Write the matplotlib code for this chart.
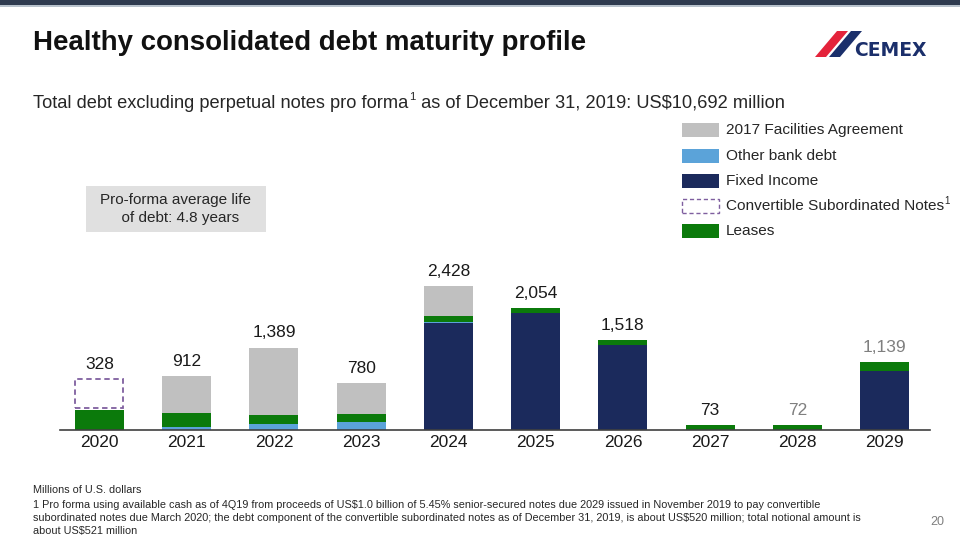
import matplotlib
matplotlib.use("Agg")
import matplotlib.pyplot as plt
from matplotlib.patches import Rectangle, Polygon
import numpy as np

plt.rcParams['font.family'] = ['Liberation Sans', 'DejaVu Sans']

years = ["2020", "2021", "2022", "2023", "2024", "2025", "2026", "2027", "2028", "2029"]
fixed_income = [0, 0, 0, 0, 1800, 1969, 1438, 0, 0, 997]
other_bank = [0, 45, 88, 132, 27, 0, 0, 0, 0, 0]
leases = [328, 240, 158, 130, 95, 85, 80, 73, 72, 142]
facilities_2017 = [0, 627, 1143, 518, 506, 0, 0, 0, 0, 0]
convertible = [520, 0, 0, 0, 0, 0, 0, 0, 0, 0]
label_grey = [False, False, False, False, False, False, False, False, True, True]

W, H = 960, 540
fig = plt.figure(figsize=(9.6, 5.4), dpi=100)
fig.patch.set_facecolor("white")

def fx(px):
    return px / W

def fy(py):
    return 1 - py / H

# top band
fig.add_artist(Rectangle((0, fy(5)), 1, 5 / H, transform=fig.transFigure,
                         facecolor="#2f3b4f", edgecolor="none"))
fig.add_artist(Rectangle((0, fy(6.5)), 1, 1.5 / H, transform=fig.transFigure,
                         facecolor="#b8c2cc", edgecolor="none"))

# axes
ax_left, ax_right = 60, 930
ax_bottom, ax_top = 429.5, 250
ax = fig.add_axes([fx(ax_left), fy(ax_bottom), (ax_right - ax_left) / W, (ax_bottom - ax_top) / H])
ax.set_xlim(-0.452, 9.52)
ax.set_ylim(0, (ax_bottom - ax_top) / 0.059)

x = np.arange(len(years))
bw = 0.56
C_NAVY = "#1b2a5c"
C_BLUE = "#5ba3d9"
C_GREEN = "#0b7a0b"
C_GREY = "#c0c0c0"
C_PURPLE = "#7f5f9f"

bottom = np.zeros(len(years))
ax.bar(x, fixed_income, bw, bottom=bottom, color=C_NAVY, edgecolor="none", zorder=2)
bottom += np.array(fixed_income)
ax.bar(x, other_bank, bw, bottom=bottom, color=C_BLUE, edgecolor="none", zorder=2)
bottom += np.array(other_bank)
ax.bar(x, leases, bw, bottom=bottom, color=C_GREEN, edgecolor="none", zorder=2)
bottom += np.array(leases)
ax.bar(x, facilities_2017, bw, bottom=bottom, color=C_GREY, edgecolor="none", zorder=2)
bottom += np.array(facilities_2017)
totals = bottom.copy()
conv = np.array(convertible)
mask = conv > 0
ax.bar(x[mask], conv[mask] - 30, bw * 0.98, bottom=bottom[mask] + 30, facecolor="none",
       edgecolor=C_PURPLE, linestyle=(0, (3, 2)), linewidth=1.3, zorder=3)
tops = bottom + conv

for xi, t, top, g in zip(x, totals, tops, label_grey):
    ax.text(xi, top + 120, f"{int(round(t)):,}", ha="center", va="bottom",
            fontsize=12.5, color="#7f7f7f" if g else "#1a1a1a")

for s in ["top", "right", "left"]:
    ax.spines[s].set_visible(False)
ax.spines["bottom"].set_color("#404040")
ax.spines["bottom"].set_linewidth(1.2)
ax.set_yticks([])
ax.set_xticks(x)
ax.set_xticklabels(years, fontsize=12.5, color="#1a1a1a")
ax.tick_params(axis="x", length=0, pad=4)
ax.patch.set_alpha(0)

# title & subtitle
fig.text(fx(33), fy(43), "Healthy consolidated debt maturity profile", fontsize=19.9,
         fontweight="bold", color="#111111", va="center", ha="left")
t1 = fig.text(fx(33), fy(103), "Total debt excluding perpetual notes pro forma", fontsize=13.15,
              color="#262626", va="center", ha="left")
fig.canvas.draw()
bb = t1.get_window_extent()
t2 = fig.text(bb.x1 / W + 0.5 / W, fy(97), "1", fontsize=8, color="#262626", va="center", ha="left")
bb2 = t2.get_window_extent()
fig.text(bb2.x1 / W + 1 / W, fy(103), " as of December 31, 2019: US$10,692 million", fontsize=13.15,
         color="#262626", va="center", ha="left")

# legend
leg_items = [("2017 Facilities Agreement", C_GREY, None),
             ("Other bank debt", C_BLUE, None),
             ("Fixed Income", C_NAVY, None),
             ("Convertible Subordinated Notes", None, C_PURPLE),
             ("Leases", C_GREEN, None)]
leg_y = [130, 156, 181, 206, 231]
for (lab, fc, ec), yy in zip(leg_items, leg_y):
    if fc is not None:
        fig.add_artist(Rectangle((fx(682), fy(yy + 7)), 37 / W, 14 / H, transform=fig.transFigure,
                                 facecolor=fc, edgecolor="none"))
    else:
        fig.add_artist(Rectangle((fx(682), fy(yy + 7)), 37 / W, 14 / H, transform=fig.transFigure,
                                 facecolor="none", edgecolor=ec, linestyle=(0, (3, 2)), linewidth=1.0))
    tt = fig.text(fx(726), fy(yy), lab, fontsize=11.1, color="#262626", va="center", ha="left")
    if lab.startswith("Convertible"):
        fig.canvas.draw()
        b = tt.get_window_extent()
        fig.text(b.x1 / W + 0.5 / W, fy(yy - 5), "1", fontsize=7, color="#262626", va="center", ha="left")

# grey info box
fig.add_artist(Rectangle((fx(86), fy(232)), 180 / W, 46 / H, transform=fig.transFigure,
                         facecolor="#e0e0e0", edgecolor="none"))
fig.text(fx(176), fy(209), "Pro-forma average life\n  of debt: 4.8 years", fontsize=11, color="#262626",
         va="center", ha="center", multialignment="center", linespacing=1.3)

# logo
red = [(815, 57), (826, 57), (848, 31), (837, 31)]
navy = [(829, 57), (840, 57), (862, 31), (851, 31)]
fig.add_artist(Polygon([(fx(a), fy(b)) for a, b in red], closed=True, transform=fig.transFigure,
                       facecolor="#e4233b", edgecolor="none"))
fig.add_artist(Polygon([(fx(a), fy(b)) for a, b in navy], closed=True, transform=fig.transFigure,
                       facecolor="#1b2f6b", edgecolor="none"))
fig.text(fx(854), fy(50), "CEMEX", fontsize=13.5, fontweight="bold", color="#1b2f6b",
         va="center", ha="left", fontstyle="normal", family=["DejaVu Sans"])

# footnotes
fn_family = ["Liberation Sans Narrow", "Liberation Sans", "DejaVu Sans"]
foot = ["Millions of U.S. dollars",
        "1 Pro forma using available cash as of 4Q19 from proceeds of US$1.0 billion of 5.45% senior-secured notes due 2029 issued in November 2019 to pay convertible",
        "subordinated notes due March 2020; the debt component of the convertible subordinated notes as of December 31, 2019, is about US$520 million; total notional amount is",
        "about US$521 million"]
for line, yy in zip(foot, [490, 505, 518, 531]):
    fig.text(fx(33), fy(yy), line, fontsize=7.85, color="#262626", va="center", ha="left", family=fn_family)
fig.text(fx(944), fy(522), "20", fontsize=9, color="#7f7f7f", va="center", ha="right")

fig.savefig("out.png", dpi=100)
